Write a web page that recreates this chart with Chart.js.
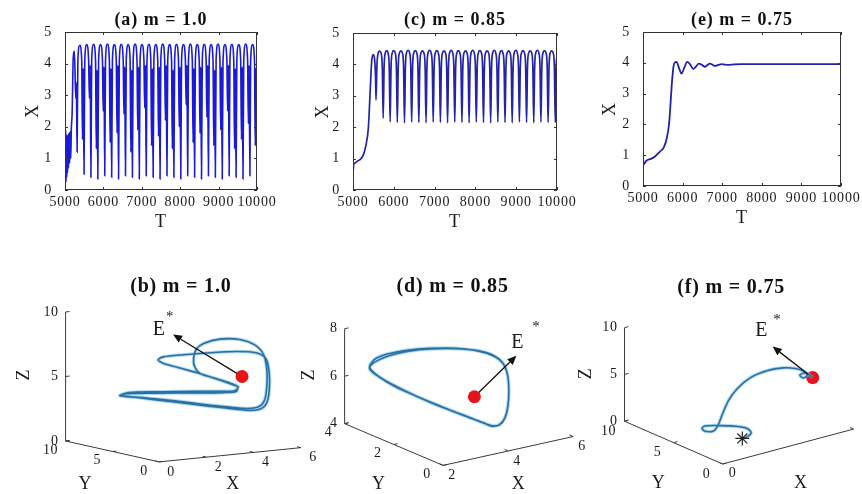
<!DOCTYPE html>
<html>
<head>
<meta charset="utf-8">
<title>Time series and phase portraits</title>
<script src="https://cdn.jsdelivr.net/npm/chart.js"></script>
<style>
  body { margin: 0; background: #fff; }
  #wrap { position: relative; width: 862px; height: 494px; overflow: hidden; background: #fff; }
  canvas { position: absolute; }
</style>
</head>
<body>
<div id="wrap">
  <canvas id="ca" width="290" height="230" style="left:0;top:0"></canvas>
  <canvas id="cc" width="290" height="230" style="left:290px;top:0"></canvas>
  <canvas id="ce" width="282" height="230" style="left:580px;top:0"></canvas>
  <canvas id="cb" width="862" height="254" style="left:0;top:240px"></canvas>
  <canvas id="cd" width="862" height="254" style="left:0;top:240px"></canvas>
  <canvas id="cf" width="862" height="254" style="left:0;top:240px"></canvas>
</div>
<script>
// ---- time series, m = 1.0 (a)
const tA = [
  5000, 5008, 5016, 5025, 5035, 5045, 5056, 5068, 5080, 5093, 5106, 5120, 5135, 5150, 5165, 5185, 5215, 5245, 5280, 5295,
  5315, 5335, 5385, 5435, 5455, 5475,
  5495, 5515, 5565, 5615, 5635, 5655,
  5675, 5695, 5745, 5795, 5815, 5835,
  5855, 5875, 5925, 5975, 5995, 6015,
  6035, 6055, 6105, 6155, 6175, 6195,
  6215, 6235, 6285, 6335, 6355, 6375,
  6395, 6415, 6465, 6515, 6535, 6555,
  6575, 6595, 6645, 6695, 6715, 6735,
  6755, 6775, 6825, 6875, 6895, 6915,
  6935, 6955, 7005, 7055, 7075, 7095,
  7115, 7135, 7185, 7235, 7255, 7275,
  7295, 7315, 7365, 7415, 7435, 7455,
  7475, 7495, 7545, 7595, 7615, 7635,
  7655, 7675, 7725, 7775, 7795, 7815,
  7835, 7855, 7905, 7955, 7975, 7995,
  8015, 8035, 8085, 8135, 8155, 8175,
  8195, 8215, 8265, 8315, 8335, 8355,
  8375, 8395, 8445, 8495, 8515, 8535,
  8555, 8575, 8625, 8675, 8695, 8715,
  8735, 8755, 8805, 8855, 8875, 8895,
  8915, 8935, 8985, 9035, 9055, 9075,
  9095, 9115, 9165, 9215, 9235, 9255,
  9275, 9295, 9345, 9395, 9415, 9435,
  9455, 9475, 9525, 9575, 9595, 9615,
  9635, 9655, 9705, 9755, 9775, 9795,
  9815, 9835, 9885, 9935, 9955, 9975,
  10000
];
const xA = [
  2.1, 0.3, 1.9, 0.25, 1.75, 0.4, 1.7, 0.55, 1.75, 0.7, 1.8, 0.85, 1.85, 1.0, 1.95, 2.4, 4.2, 4.4, 2.9, 3.4,
  1.2, 4.1, 4.58, 4.12, 1.6, 3.85,
  0.5, 4.1, 4.6, 4.1, 2.9, 3.95,
  0.4, 4.12, 4.61, 4.1, 1.3, 3.8,
  0.35, 4.1, 4.6, 4.12, 2.5, 3.9,
  0.45, 4.1, 4.62, 4.1, 1.5, 3.85,
  0.4, 4.12, 4.6, 4.1, 1.8, 3.95,
  0.35, 4.1, 4.61, 4.12, 2.4, 3.9,
  0.45, 4.1, 4.6, 4.1, 1.2, 3.8,
  0.4, 4.12, 4.62, 4.1, 1.9, 3.9,
  0.35, 4.1, 4.6, 4.12, 2.6, 3.95,
  0.45, 4.1, 4.61, 4.1, 1.4, 3.85,
  0.4, 4.12, 4.6, 4.1, 1.7, 3.9,
  0.35, 4.1, 4.62, 4.12, 2.2, 3.95,
  0.45, 4.1, 4.6, 4.1, 1.3, 3.8,
  0.4, 4.12, 4.61, 4.1, 2.0, 3.9,
  0.35, 4.1, 4.6, 4.12, 2.7, 3.95,
  0.45, 4.1, 4.62, 4.1, 1.5, 3.85,
  0.4, 4.12, 4.6, 4.1, 1.8, 3.9,
  0.35, 4.1, 4.61, 4.12, 2.3, 3.95,
  0.45, 4.1, 4.6, 4.1, 1.4, 3.8,
  0.4, 4.12, 4.62, 4.1, 1.9, 3.9,
  0.35, 4.1, 4.6, 4.12, 2.5, 3.95,
  0.45, 4.1, 4.61, 4.1, 1.3, 3.85,
  0.4, 4.12, 4.6, 4.1, 1.6, 3.9,
  0.35, 4.1, 4.62, 4.12, 2.1, 3.95,
  0.45, 4.1, 4.6, 4.1, 1.4, 3.85,
  0.6
];

// ---- time series, m = 0.85 (c)
const tC = [
  5000, 5005, 5015, 5049, 5110, 5172, 5253, 5319, 5376, 5417, 5458, 5498, 5530, 5552, 5564,
  5586, 5614, 5652, 5690, 5718, 5740, 5762, 5790, 5825, 5860, 5888, 5910,
  5932, 5960, 5998, 6036, 6064, 6086,
  6108, 6136, 6174, 6212, 6240, 6262,
  6284, 6312, 6350, 6388, 6416, 6438,
  6460, 6488, 6526, 6564, 6592, 6614,
  6636, 6664, 6702, 6740, 6768, 6790,
  6812, 6840, 6878, 6916, 6944, 6966,
  6988, 7016, 7054, 7092, 7120, 7142,
  7164, 7192, 7230, 7268, 7296, 7318,
  7340, 7368, 7406, 7444, 7472, 7494,
  7516, 7544, 7582, 7620, 7648, 7670,
  7692, 7720, 7758, 7796, 7824, 7846,
  7868, 7896, 7934, 7972, 8000, 8022,
  8044, 8072, 8110, 8148, 8176, 8198,
  8220, 8248, 8286, 8324, 8352, 8374,
  8396, 8424, 8462, 8500, 8528, 8550,
  8572, 8600, 8638, 8676, 8704, 8726,
  8748, 8776, 8814, 8852, 8880, 8902,
  8924, 8952, 8990, 9028, 9056, 9078,
  9100, 9128, 9166, 9204, 9232, 9254,
  9276, 9304, 9342, 9380, 9408, 9430,
  9452, 9480, 9518, 9556, 9584, 9606,
  9628, 9656, 9694, 9732, 9760, 9782,
  9804, 9832, 9870, 9908, 9936, 9958,
  9980, 10000
];
const xC = [
  1.95, 0.6, 0.8, 0.86, 0.92, 0.97, 1.12, 1.44, 1.97, 3.03, 4.1, 4.31, 4.15, 3.6, 2.87,
  3.95, 4.35, 4.42, 4.35, 3.9, 2.29, 3.9, 4.36, 4.44, 4.36, 3.9, 2.17,
  3.9, 4.36, 4.44, 4.36, 3.9, 2.15,
  3.9, 4.36, 4.43, 4.36, 3.9, 2.14,
  3.9, 4.37, 4.45, 4.36, 3.9, 2.16,
  3.9, 4.36, 4.44, 4.36, 3.9, 2.15,
  3.9, 4.36, 4.43, 4.36, 3.9, 2.14,
  3.9, 4.37, 4.45, 4.36, 3.9, 2.16,
  3.9, 4.36, 4.44, 4.36, 3.9, 2.15,
  3.9, 4.36, 4.43, 4.36, 3.9, 2.14,
  3.9, 4.37, 4.45, 4.36, 3.9, 2.16,
  3.9, 4.36, 4.44, 4.36, 3.9, 2.15,
  3.9, 4.36, 4.43, 4.36, 3.9, 2.14,
  3.9, 4.37, 4.45, 4.36, 3.9, 2.16,
  3.9, 4.36, 4.44, 4.36, 3.9, 2.15,
  3.9, 4.36, 4.43, 4.36, 3.9, 2.14,
  3.9, 4.37, 4.45, 4.36, 3.9, 2.16,
  3.9, 4.36, 4.44, 4.36, 3.9, 2.15,
  3.9, 4.36, 4.43, 4.36, 3.9, 2.14,
  3.9, 4.37, 4.45, 4.36, 3.9, 2.16,
  3.9, 4.36, 4.44, 4.36, 3.9, 2.15,
  3.9, 4.36, 4.43, 4.36, 3.9, 2.14,
  3.9, 4.37, 4.45, 4.36, 3.9, 2.16,
  3.9, 4.36, 4.44, 4.36, 3.9, 2.15,
  3.9, 4.36, 4.43, 4.36, 3.9, 2.15,
  3.9, 4.3
];

// ---- time series, m = 0.75 (e)
const tE = [5000, 5004, 5015, 5084, 5200, 5296, 5422, 5532, 5608, 5659, 5701, 5735, 5769, 5802, 5845,
  5905, 5971, 6045, 6115, 6190, 6267, 6340, 6410, 6490, 6563, 6630, 6689, 6750, 6816, 6900, 6985,
  7070, 7150, 7300, 7500, 8000, 8500, 9000, 9500, 10000];
const xE = [1.98, 0.9, 0.7, 0.82, 0.88, 0.95, 1.11, 1.27, 1.6, 2.03, 2.79, 3.43, 3.87, 4.01, 4.03,
  3.85, 3.65, 3.85, 4.03, 3.95, 3.8, 3.88, 3.97, 3.93, 3.87, 3.93, 3.97, 3.94, 3.9, 3.93, 3.96,
  3.94, 3.93, 3.95, 3.96, 3.96, 3.96, 3.96, 3.96, 3.96];

const tTicks = [5000, 6000, 7000, 8000, 9000, 10000];
const xTicks = [0, 1, 2, 3, 4, 5];

// ---- phase portraits (X, Y, Z)
const bX = [3.93, 3.16, 2.73, 2.15, 1.92, 1.74, 1.96, 2.03, 2.75, 3.86, 4.69, 5.11, 5.25, 5.25, 5.14, 4.90, 4.41, 3.30,
  2.31, 1.57, 0.86, 0.55, 0.89, 1.85, 2.59, 3.44, 3.79, 3.93, 3.02, 2.73, 2.48, 2.45, 2.56, 2.47, 3.16, 4.00,
  4.62, 5.00, 5.15, 5.14, 5.04, 4.80, 4.27, 3.02, 2.29, 1.16, 0.72, 0.51, 0.79, 1.71, 2.45, 3.30, 3.86, 3.93];
const bY = [1.5, 1.5, 2.5, 3.5, 4.5, 4.5, 4.5, 2.5, 1.5, 1.5, 1.5, 1.5, 1.5, 1.5, 1.5, 1.5, 1.5, 1.5,
  2.5, 4.5, 5.5, 5.5, 5.5, 4.5, 2.5, 1.5, 1.5, 1.5, 1.5, 2.5, 2.5, 2.5, 2.5, 1.5, 1.5, 1.5,
  1.5, 1.5, 1.5, 1.5, 1.5, 1.5, 1.5, 1.5, 3.5, 4.5, 5.5, 5.5, 5.5, 4.5, 2.5, 1.5, 1.5, 1.5];
const bZ = [4.87, 5.52, 5.93, 6.37, 6.59, 6.87, 7.05, 7.53, 7.71, 7.60, 7.35, 6.81, 5.68, 4.33, 3.37, 2.97, 2.94, 3.34,
  3.66, 3.81, 4.03, 4.18, 4.32, 4.37, 4.59, 4.59, 4.58, 4.87, 5.65, 5.93, 6.57, 7.21, 7.85, 8.47, 8.69, 8.51,
  8.00, 7.20, 5.94, 4.48, 3.56, 3.14, 3.11, 3.54, 3.69, 4.03, 4.05, 4.16, 4.24, 4.28, 4.49, 4.52, 4.51, 4.87];
const eqB = [4.1, 1.5, 5.62];

const dX = [2.23, 2.32, 2.48, 2.78, 3.19, 3.54, 3.89, 4.14, 4.29, 4.36, 4.40, 4.37, 4.28, 4.19, 4.12, 4.02, 3.74, 3.36,
  2.94, 2.56, 2.35, 2.24, 2.28, 2.43, 2.58, 2.83, 3.19, 3.54, 3.89, 4.14, 4.29, 4.36, 4.40, 4.37, 4.28, 4.19,
  4.12, 4.02, 3.74, 3.36, 2.99, 2.63, 2.43, 2.28, 2.23];
const dY = [3.3, 3.2, 2.9, 2.5, 2.1, 1.5, 1.1, 0.8, 0.6, 0.5, 0.5, 0.5, 0.5, 0.6, 0.8, 1.0, 1.3, 1.8,
  2.3, 2.8, 3.2, 3.3, 3.3, 3.2, 2.9, 2.5, 2.1, 1.5, 1.1, 0.8, 0.6, 0.5, 0.5, 0.5, 0.5, 0.6,
  0.8, 1.0, 1.3, 1.8, 2.3, 2.8, 3.2, 3.3, 3.3];
const dZ = [6.67, 6.97, 7.27, 7.52, 7.65, 7.81, 7.78, 7.64, 7.36, 6.89, 6.21, 5.55, 5.09, 4.79, 4.67, 4.73, 4.95, 5.25,
  5.61, 6.01, 6.31, 6.54, 6.70, 6.90, 7.19, 7.46, 7.62, 7.79, 7.77, 7.62, 7.35, 6.88, 6.20, 5.54, 5.08, 4.78,
  4.66, 4.72, 4.94, 5.23, 5.56, 5.91, 6.22, 6.49, 6.67];
const eqD = [3.72, 1.0, 5.93];

const fX = [1.5, 1.6, 1.5, 1.3, 1.0, 0.8, 0.75, 0.75, 0.8, 0.85, 0.9, 1.0, 1.2, 1.5, 2.0, 2.6, 3.2, 3.6, 3.85, 4.0,
  3.95, 3.85, 3.9, 3.95, 3.95];
const fY = [2.0, 1.77, 1.10, 0.97, 1.33, 2.47, 3.83, 4.10, 3.90, 3.20, 2.90, 2.73, 2.60, 2.50, 2.50, 2.44, 2.37, 2.18,
  2.01, 2.08, 2.34, 2.41, 2.01, 1.61, 1.37];
const fZ = [0.70, 0.90, 1.71, 2.39, 2.68, 2.38, 1.76, 1.37, 1.12, 1.44, 2.07, 3.24, 4.72, 5.81, 6.60, 6.91, 6.80, 6.52,
  6.11, 5.53, 5.18, 5.53, 5.91, 5.78, 5.66];
const eqF = [3.95, 1.37, 5.66];

const bTickX = [0, 2, 4, 6], bTickY = [0, 5, 10], bTickZ = [0, 5, 10];
const dTickX = [2, 4, 6], dTickY = [0, 2, 4], dTickZ = [4, 6, 8];
const fTickX = [0, 5], fTickY = [0, 5, 10], fTickZ = [0, 5, 10];

const SERIF = '"Liberation Serif", "Times New Roman", serif';
Chart.defaults.font.family = SERIF;
Chart.defaults.color = '#1a1a1a';

// frame with inward ticks + bold title, matlab style
const framePlugin = {
  id: 'frame',
  beforeDraw(chart) {
    // the printed figure has slightly stretched lettering
    chart.ctx.letterSpacing = '0.8px';
  },
  afterDraw(chart, args, o) {
    const { ctx, chartArea: a, scales: { x, y } } = chart;
    ctx.save();
    ctx.strokeStyle = '#333';
    ctx.lineWidth = 1;
    ctx.strokeRect(a.left + 0.5, a.top + 0.5, a.right - a.left - 1, a.bottom - a.top - 1);
    ctx.beginPath();
    x.ticks.forEach(t => {
      const p = Math.round(x.getPixelForValue(t.value)) + 0.5;
      ctx.moveTo(p, a.bottom); ctx.lineTo(p, a.bottom - 3);
      ctx.moveTo(p, a.top); ctx.lineTo(p, a.top + 3);
    });
    y.ticks.forEach(t => {
      const p = Math.round(y.getPixelForValue(t.value)) + 0.5;
      ctx.moveTo(a.left, p); ctx.lineTo(a.left + 3, p);
      ctx.moveTo(a.right, p); ctx.lineTo(a.right - 3, p);
    });
    ctx.stroke();
    ctx.font = 'bold 18px ' + SERIF;
    ctx.letterSpacing = '1px';
    ctx.fillStyle = '#111';
    ctx.textAlign = 'center';
    ctx.textBaseline = 'middle';
    ctx.fillText(o.title, (a.left + a.right) / 2, o.titleY);
    ctx.restore();
  }
};

function timeChart(id, t, x, title, color, width, pad, yPad) {
  return new Chart(document.getElementById(id), {
    type: 'line',
    data: { datasets: [{
      data: t.map((v, i) => ({ x: v, y: x[i] })),
      borderColor: color, borderWidth: width, pointRadius: 0,
      cubicInterpolationMode: 'monotone', fill: false
    }] },
    options: {
      responsive: false, animation: false, devicePixelRatio: 1, events: [],
      layout: { padding: pad },
      plugins: { legend: { display: false }, tooltip: { enabled: false }, frame: { title: title, titleY: 20 } },
      scales: {
        x: {
          type: 'linear', min: tTicks[0], max: tTicks[tTicks.length - 1],
          grid: { display: false }, border: { display: false },
          afterBuildTicks: s => { s.ticks = tTicks.map(v => ({ value: v })); },
          ticks: { autoSkip: false, maxRotation: 0, padding: -4, font: { size: 14 }, color: '#1a1a1a', callback: v => String(v) },
          title: { display: true, text: 'T', font: { size: 18 }, padding: { top: 0, bottom: -3 } },
          afterFit: s => { s.height = 40; }
        },
        y: {
          min: xTicks[0], max: xTicks[xTicks.length - 1],
          grid: { display: false }, border: { display: false },
          afterBuildTicks: s => { s.ticks = xTicks.map(v => ({ value: v })); },
          ticks: { padding: 5, font: { size: 14 }, color: '#1a1a1a' },
          title: { display: true, text: 'X', font: { size: 18 }, padding: { top: yPad, bottom: 0 } },
          afterFit: s => { s.width = 45; }
        }
      }
    },
    plugins: [framePlugin]
  });
}

timeChart('ca', tA, xA, '(a) m = 1.0', '#1a1ad8', 1.6, { left: 20, right: 33, top: 32, bottom: 0 }, 2);
timeChart('cc', tC, xC, '(c) m = 0.85', '#2424a8', 1.7, { left: 18, right: 23, top: 33, bottom: 0 }, 4);
timeChart('ce', tE, xE, '(e) m = 0.75', '#2222b0', 1.8, { left: 18, right: 21, top: 32, bottom: 4 }, 1);

// ---- 3d views: page position of the front corner and pixel step per unit of X, Y, Z
const viewB = { o: [155, 467], ex: [24, -2.5], ey: [-9.5, -2.2], ez: [0, -13.6],
  xt: bTickX, yt: bTickY, zt: bTickZ, yOff: [-15, 9], xOff: [12, 10],
  zName: [18, 375], yName: [80, 491], xName: [230, 491], title: [177, 282], titleText: '(b) m = 1.0',
  arrow: [-69, -42], eLab: [155, 328], star: [166, 314] };
const viewD = { o: [443.3, 470.7], ex: [33, -7.6], ey: [-25, -11], ez: [0, -25],
  xt: dTickX, yt: dTickY, zt: dTickZ, yOff: [-16, 9], xOff: [9, 10],
  zName: [307, 375], yName: [378, 491], xName: [520, 491], title: [453, 282], titleText: '(d) m = 0.85',
  arrow: [42, -41], eLab: [519, 341], star: [538, 325] };
const viewF = { o: [728.3, 470.7], ex: [26.7, -7.47], ey: [-10, -4.57], ez: [0, -10],
  xt: fTickX, yt: fTickY, zt: fTickZ, yOff: [-16, 10], xOff: [10, 9],
  zName: [589, 374], yName: [663, 491], xName: [808, 491], title: [737, 282], titleText: '(f) m = 0.75',
  arrow: [-40, -31], eLab: [768, 328], star: [784, 317] };

function P(v, X, Y, Z) {
  const a = X - v.xt[0], b = Y - v.yt[0], c = Z - v.zt[0];
  return { x: v.o[0] + a * v.ex[0] + b * v.ey[0] + c * v.ez[0],
           y: v.o[1] + a * v.ex[1] + b * v.ey[1] + c * v.ez[1] };
}
const unit = d => { const n = Math.hypot(d[0], d[1]); return [d[0] / n, d[1] / n]; };
const last = arr => arr[arr.length - 1];

function axesPlugin(v, eq) {
  const at = (chart, X, Y, Z) => {
    const p = P(v, X, Y, Z);
    return [chart.scales.x.getPixelForValue(p.x), chart.scales.y.getPixelForValue(p.y)];
  };
  const pg = (chart, q) => [chart.scales.x.getPixelForValue(q[0]), chart.scales.y.getPixelForValue(q[1])];
  return {
    id: 'axes3d',
    beforeDatasetsDraw(chart) {
      const c = chart.ctx;
      const x0 = v.xt[0], x1 = last(v.xt), y0 = v.yt[0], y1 = last(v.yt), z0 = v.zt[0], z1 = last(v.zt);
      const ux = unit(v.ex), uy = unit(v.ey);
      const seg = (a, b) => { c.moveTo(a[0], a[1]); c.lineTo(b[0], b[1]); };
      c.save();
      c.strokeStyle = '#3a3a3a';
      c.lineWidth = 1;
      c.beginPath();
      seg(at(chart, x0, y1, z0), at(chart, x0, y1, z1));
      seg(at(chart, x0, y1, z0), at(chart, x0, y0, z0));
      seg(at(chart, x0, y0, z0), at(chart, x1, y0, z0));
      v.zt.forEach(z => { const p = at(chart, x0, y1, z); seg(p, [p[0] + 4 * ux[0], p[1] + 4 * ux[1]]); });
      v.yt.forEach(y => { const p = at(chart, x0, y, z0); seg(p, [p[0] + 4 * ux[0], p[1] + 4 * ux[1]]); });
      v.xt.forEach(x => { const p = at(chart, x, y0, z0); seg(p, [p[0] + 4 * uy[0], p[1] + 4 * uy[1]]); });
      c.stroke();
      c.restore();
    },
    afterDatasetsDraw(chart) {
      const c = chart.ctx;
      const x0 = v.xt[0], y0 = v.yt[0], y1 = last(v.yt), z0 = v.zt[0];
      c.save();
      c.fillStyle = '#1a1a1a';
      c.font = '14px ' + SERIF;
      c.letterSpacing = '0.6px';
      c.textBaseline = 'middle';
      c.textAlign = 'right';
      v.zt.forEach(z => { const p = at(chart, x0, y1, z); c.fillText(String(z), p[0] - 7, p[1]); });
      c.textAlign = 'center';
      v.yt.forEach(y => { const p = at(chart, x0, y, z0); c.fillText(String(y), p[0] + v.yOff[0], p[1] + v.yOff[1]); });
      v.xt.forEach(x => {
        const p = at(chart, x, y0, z0);
        if (p[0] + v.xOff[0] < chart.width - 8) c.fillText(String(x), p[0] + v.xOff[0], p[1] + v.xOff[1]);
      });

      c.font = '18px ' + SERIF;
      let q = pg(chart, v.yName); c.fillText('Y', q[0], q[1]);
      q = pg(chart, v.xName); c.fillText('X', q[0], q[1]);
      q = pg(chart, v.zName);
      c.save(); c.translate(q[0], q[1]); c.rotate(-Math.PI / 2); c.fillText('Z', 0, 0); c.restore();

      // arrow from the equilibrium to its label
      const e = at(chart, eq[0], eq[1], eq[2]);
      const d = unit(v.arrow);
      const tip = [e[0] + v.arrow[0], e[1] + v.arrow[1]];
      const base = [tip[0] - 9 * d[0], tip[1] - 9 * d[1]];
      c.strokeStyle = '#111';
      c.lineWidth = 1.3;
      c.beginPath();
      c.moveTo(e[0] + 6 * d[0], e[1] + 6 * d[1]);
      c.lineTo(base[0], base[1]);
      c.stroke();
      c.beginPath();
      c.moveTo(tip[0], tip[1]);
      c.lineTo(base[0] - 4 * d[1], base[1] + 4 * d[0]);
      c.lineTo(base[0] + 4 * d[1], base[1] - 4 * d[0]);
      c.closePath();
      c.fillStyle = '#111';
      c.fill();

      c.fillStyle = '#1a1a1a';
      c.font = '20px ' + SERIF;
      q = pg(chart, v.eLab); c.fillText('E', q[0], q[1]);
      c.font = '15px ' + SERIF;
      q = pg(chart, v.star); c.fillText('*', q[0], q[1]);

      c.font = 'bold 20px ' + SERIF;
      c.letterSpacing = '0.8px';
      c.fillStyle = '#111';
      q = pg(chart, v.title); c.fillText(v.titleText, q[0], q[1]);
      c.restore();
    }
  };
}

function phaseChart(id, v, X, Y, Z, eq, showStart, dotUnder) {
  const pts = X.map((x, i) => P(v, x, Y[i], Z[i]));
  const ds = [
    { data: pts, showLine: true, borderColor: '#2a70a0', borderWidth: 1.6, pointRadius: 0, tension: 0.3, order: 1 },
    { data: pts, showLine: true, borderColor: 'rgba(110,185,230,0.55)', borderWidth: 3.6, pointRadius: 0, tension: 0.3, order: 2 },
    { data: [P(v, eq[0], eq[1], eq[2])], pointRadius: 6.5, backgroundColor: '#e5141b', borderWidth: 0, order: dotUnder ? 3 : 0 }
  ];
  if (showStart) {
    ds.push({ data: [P(v, X[0], Y[0], Z[0])], pointStyle: 'star', pointRadius: 7,
      borderColor: '#222', backgroundColor: '#222', borderWidth: 1.2, order: 0 });
  }
  return new Chart(document.getElementById(id), {
    type: 'scatter',
    data: { datasets: ds },
    options: {
      responsive: false, animation: false, devicePixelRatio: 1, events: [],
      plugins: { legend: { display: false }, tooltip: { enabled: false } },
      scales: {
        x: { type: 'linear', display: false, min: 0, max: 862 },
        y: { type: 'linear', display: false, min: 240, max: 494, reverse: true }
      }
    },
    plugins: [axesPlugin(v, eq)]
  });
}

phaseChart('cb', viewB, bX, bY, bZ, eqB, false, false);
phaseChart('cd', viewD, dX, dY, dZ, eqD, false, false);
phaseChart('cf', viewF, fX, fY, fZ, eqF, true, true);
</script>
</body>
</html>
